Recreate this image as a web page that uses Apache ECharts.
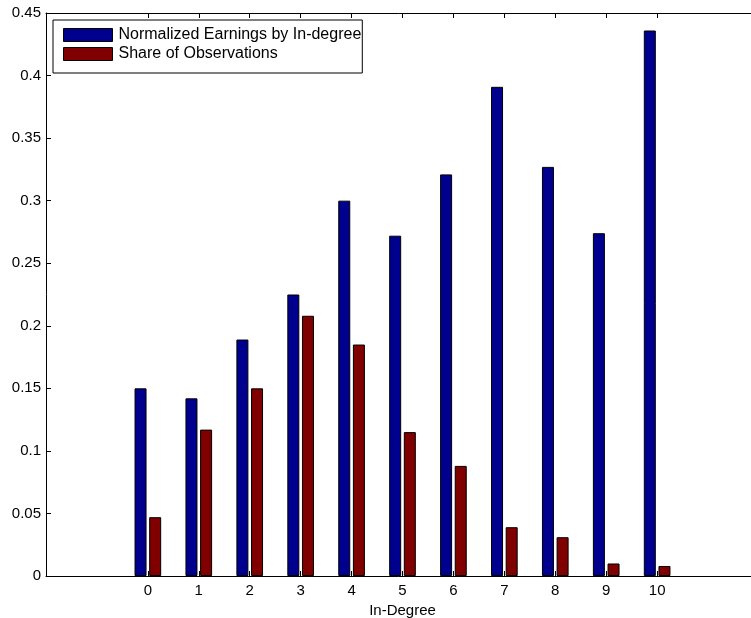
<!DOCTYPE html>
<html>
<head>
<meta charset="utf-8">
<script src="https://cdn.jsdelivr.net/npm/echarts@6/dist/echarts.min.js"></script>
<style>
  html, body { margin: 0; padding: 0; background: #fff; }
  #chart { width: 751px; height: 618px; }
</style>
</head>
<body>
<div id="chart"></div>
<script>
// in-degree categories and the two bar series
const inDegree = [0, 1, 2, 3, 4, 5, 6, 7, 8, 9, 10];
const earnings = [0.150, 0.142, 0.189, 0.225, 0.300, 0.272, 0.321, 0.391, 0.327, 0.274, 0.436];
const share = [0.047, 0.117, 0.150, 0.208, 0.185, 0.115, 0.088, 0.039, 0.031, 0.010, 0.008];

const font = '"Liberation Sans", Arial, Helvetica, sans-serif';

const chart = echarts.init(document.getElementById("chart"));

const xBase = {
  type: "value",
  min: -2,
  max: 12,
  interval: 1,
  splitLine: { show: false },
  axisLine: { show: true, onZero: false, lineStyle: { color: "#000", width: 1 } },
  axisTick: {
    show: true,
    inside: true,
    length: 5,
    customValues: inDegree,
    lineStyle: { color: "#000" },
  },
};

const option = {
  animation: false,
  backgroundColor: "#fff",
  textStyle: { fontFamily: font },
  grid: { left: 46, right: -8, top: 13, bottom: 42, containLabel: false, outerBoundsMode: "none" },
  legend: {
    orient: "vertical",
    left: 53,
    top: 20,
    padding: [7, 1, 11, 10],
    itemGap: 3,
    itemWidth: 49,
    itemHeight: 13,
    icon: "rect",
    borderColor: "#000",
    borderWidth: 1,
    backgroundColor: "#fff",
    textStyle: { fontSize: 16, lineHeight: 16, color: "#000", fontFamily: font, padding: [0, 0, 0, 1] },
    data: [
      { name: "Normalized Earnings by In-degree", itemStyle: { color: "#00008f", borderColor: "#000", borderWidth: 1 } },
      { name: "Share of Observations", itemStyle: { color: "#800000", borderColor: "#000", borderWidth: 1 } },
    ],
  },
  xAxis: [
    Object.assign({}, xBase, {
      position: "bottom",
      name: "In-Degree",
      nameLocation: "middle",
      nameGap: 26,
      nameTextStyle: { fontSize: 15, color: "#000", fontFamily: font },
      axisLabel: {
        show: true,
        customValues: inDegree,
        margin: 7,
        fontSize: 15,
        color: "#000",
        fontFamily: font,
      },
    }),
    Object.assign({}, xBase, {
      position: "top",
      axisLabel: { show: false },
    }),
  ],
  yAxis: {
    type: "value",
    min: 0,
    max: 0.45,
    interval: 0.05,
    splitLine: { show: false },
    axisLine: { show: true, onZero: false, lineStyle: { color: "#000", width: 1 } },
    axisTick: { show: true, inside: true, length: 5, lineStyle: { color: "#000" } },
    axisLabel: {
      margin: 5,
      fontSize: 15,
      color: "#000",
      fontFamily: font,
      formatter: (v) => String(+v.toFixed(2)),
    },
  },
  series: [
    {
      name: "Normalized Earnings by In-degree",
      type: "bar",
      xAxisIndex: 0,
      barWidth: 12,
      barGap: "22%",
      data: inDegree.map((x, i) => [x, earnings[i]]),
      itemStyle: { color: "#00008f", borderColor: "#000", borderWidth: 1 },
    },
    {
      name: "Share of Observations",
      type: "bar",
      xAxisIndex: 0,
      barWidth: 12,
      barGap: "22%",
      data: inDegree.map((x, i) => [x, share[i]]),
      itemStyle: { color: "#800000", borderColor: "#000", borderWidth: 1 },
    },
  ],
};

chart.setOption(option);
</script>
</body>
</html>
